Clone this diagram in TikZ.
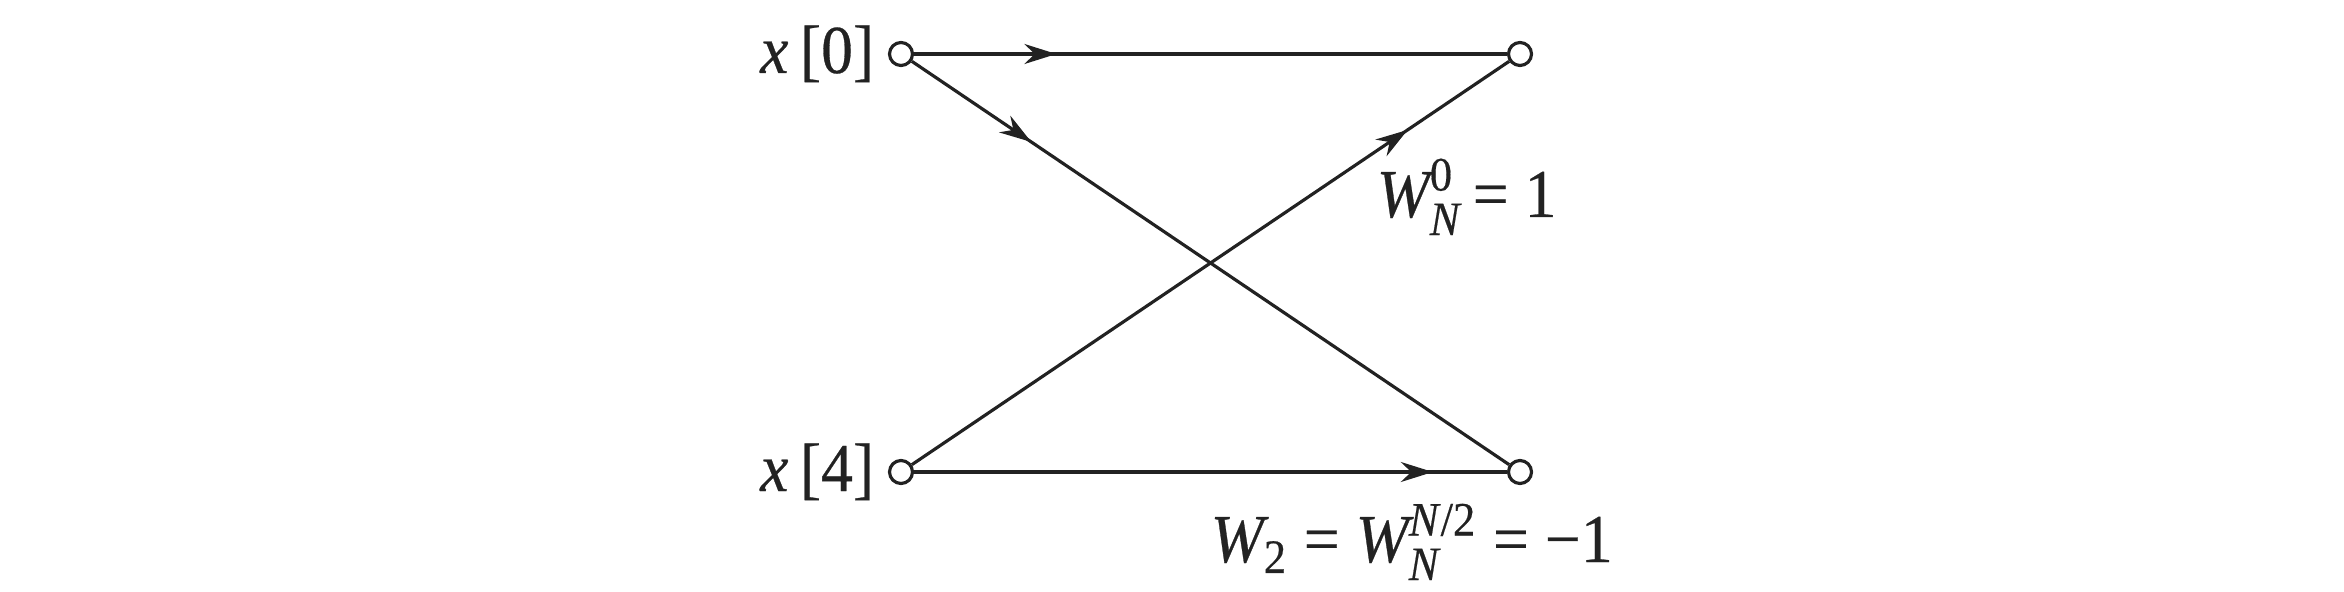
\documentclass[tikz,border=0pt]{standalone}
\usepackage{amsmath}
\usepackage{fontspec}
\setmainfont{Liberation Serif}[FakeStretch=0.93, FakeBold=0.4]
\usetikzlibrary{arrows.meta,positioning,decorations.markings}
\definecolor{ink}{HTML}{222222}
\tikzset{
  tap/.style={circle, draw=ink, fill=white, line width=0.9pt, minimum size=2.3mm, inner sep=0pt},
  lbl/.style={inner sep=0pt, font=\fontsize{19.5}{23}\selectfont, text=ink},
  br/.style={draw=ink, line width=0.9pt, postaction={decorate},
             decoration={markings, mark=at position #1 with {\arrow{Stealth[length=3.2mm, width=2mm]}}}},
}
\newcommand{\tw}[3]{$\textit{#1}_{\textit{#2}}^{\text{#3}}$}
\begin{document}
\begin{tikzpicture}
    \useasboundingbox (0,0) rectangle (23.44,-5.92);
    \node[tap] (x0) at (9.01,-0.54) {};
    \node[tap] (x4) at (9.01,-4.72) {};
    \node[tap] (y0) at (15.20,-0.54) {};
    \node[tap] (y1) at (15.20,-4.72) {};
    \node[lbl, anchor=base east] (lx0) at ([xshift=-1.3mm, yshift=-1.9mm]x0.west) {\textit{x}\,[0]};
    \node[lbl, anchor=base east] (lx4) at ([xshift=-1.3mm, yshift=-1.9mm]x4.west) {\textit{x}\,[4]};
    \node[lbl, anchor=base west] (w0) at ([xshift=-14.4mm, yshift=-16.3mm]y0.center) {\tw{W}{N}{0}\,= 1};
    \node[lbl, anchor=base west] (w2) at ([xshift=-31mm, yshift=-9mm]y1.center)
          {$\textit{W}_{\text{2}}$ = \tw{W}{N}{\textit{N}/2} = −1};
    \draw[br=0.24] (x0) -- (y0);
    \draw[br=0.20] (x0) -- (y1);
    \draw[br=0.83] (x4) -- (y0);
    \draw[br=0.875] (x4) -- (y1);
  \end{tikzpicture}
\end{document}
